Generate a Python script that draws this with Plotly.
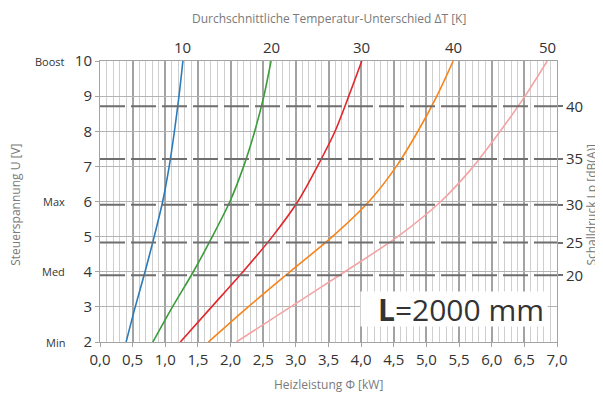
import plotly.graph_objects as go

# control voltage steps (left axis)
voltage = [2, 3, 4, 5, 6, 7, 8, 9, 10]

# heating power [kW] per temperature difference curve
power_dt10 = [0.40, 0.54, 0.69, 0.83, 0.96, 1.06, 1.14, 1.21, 1.27]
power_dt20 = [0.81, 1.11, 1.43, 1.72, 1.99, 2.20, 2.37, 2.51, 2.62]
power_dt30 = [1.23, 1.71, 2.19, 2.64, 3.03, 3.33, 3.60, 3.81, 4.01]
power_dt40 = [1.66, 2.27, 2.91, 3.56, 4.12, 4.54, 4.87, 5.16, 5.41]
power_dt50 = [2.09, 2.92, 3.75, 4.56, 5.22, 5.72, 6.13, 6.51, 6.85]

delta_t = [10, 20, 30, 40, 50]
curve_colors = ["#2b7bba", "#3a9d3a", "#e3262a", "#f7841a", "#f5a3a3"]

# sound pressure levels and where they sit on the voltage scale
sound_levels = [20, 25, 30, 35, 40]
sound_at_voltage = [3.90, 4.83, 5.91, 7.21, 8.71]

# named fan steps
step_names = ["Min", "Med", "Max", "Boost"]
step_voltage = [2, 4, 6, 10]

x_ticks = [i * 0.5 for i in range(15)]
x_labels = [f"{v:.1f}".replace(".", ",") for v in x_ticks]

FONT = "Open Sans"
DARK = "#333333"
GREY = "#7a7a7a"

fig = go.Figure()

curves = [power_dt10, power_dt20, power_dt30, power_dt40, power_dt50]
for dt, pw, col in zip(delta_t, curves, curve_colors):
    fig.add_trace(go.Scatter(
        x=pw, y=voltage, mode="lines", name=f"{dt} K",
        line=dict(color=col, width=1.6, shape="spline", smoothing=0.8),
        showlegend=False, hoverinfo="skip",
    ))
    # delta T label above the end of each curve
    fig.add_annotation(x=pw[-1], y=1.0, xref="x", yref="paper", yanchor="bottom",
                       yshift=2, text=str(dt), showarrow=False,
                       font=dict(size=15, color=DARK, family=FONT))

# invisible trace so the right axis is drawn
fig.add_trace(go.Scatter(x=[0], y=[2], yaxis="y2", mode="markers",
                         marker=dict(opacity=0), showlegend=False, hoverinfo="skip"))

# dashed sound pressure lines
for yv in sound_at_voltage:
    fig.add_shape(type="line", xref="x", yref="y", x0=0, x1=7, y0=yv, y1=yv,
                  line=dict(color="#6e6e6e", width=2, dash="25px,6px"), layer="above")

# step names next to left tick labels
for name, yv in zip(step_names, step_voltage):
    fig.add_annotation(x=-0.072, y=yv, xref="paper", yref="y", xanchor="right",
                       text=name, showarrow=False,
                       font=dict(size=11, color=DARK, family=FONT))

fig.add_annotation(x=0.5, y=1.0, xref="paper", yref="paper", yanchor="middle",
                   yshift=43, text="Durchschnittliche Temperatur-Unterschied ΔT [K]",
                   showarrow=False, font=dict(size=12, color=GREY, family=FONT))
fig.add_annotation(x=0.5, y=0, xref="paper", yref="paper", yanchor="middle",
                   yshift=-42, text="Heizleistung Φ [kW]",
                   showarrow=False, font=dict(size=12, color=GREY, family=FONT))
fig.add_annotation(x=-0.185, y=0.49, xref="paper", yref="paper", textangle=-90,
                   xanchor="center", yanchor="middle",
                   text="Steuerspannung U [V]", showarrow=False,
                   font=dict(size=12, color=GREY, family=FONT))
fig.add_annotation(x=1.075, y=0.49, xref="paper", yref="paper", textangle=-90,
                   xanchor="center", yanchor="middle",
                   text="Schalldruck Lp [dB(A)]", showarrow=False,
                   font=dict(size=12, color=GREY, family=FONT))

# length label with white box
fig.add_annotation(x=0.7746, y=0.118, xref="paper", yref="paper",
                   xanchor="center", yanchor="middle", width=180, height=28,
                   align="right", text="<b>L</b>=2000 mm", showarrow=False,
                   bgcolor="white", borderpad=3,
                   font=dict(size=30, color=DARK, family=FONT))

# the page adds an 8px body margin, so the figure is drawn 8px smaller
fig.update_layout(
    width=595, height=392,
    margin=dict(l=92, r=46, t=53, b=58),
    paper_bgcolor="white", plot_bgcolor="white",
    font=dict(family=FONT, color=DARK),
    xaxis=dict(
        range=[0, 7], tickvals=x_ticks, ticktext=x_labels,
        tickfont=dict(size=15, color=DARK),
        showgrid=True, gridcolor="#a3a3a3", gridwidth=1.5,
        minor=dict(dtick=0.1, showgrid=True, gridcolor="#cfcfcf", gridwidth=1),
        ticks="outside", ticklen=4, tickcolor="#a3a3a3",
        showline=True, linecolor="#a3a3a3", mirror=True, zeroline=False,
    ),
    yaxis=dict(
        range=[2, 10], dtick=1, tickfont=dict(size=15, color=DARK),
        showgrid=True, gridcolor="#b3b3b3", gridwidth=1.2,
        ticks="outside", ticklen=4, tickcolor="#a3a3a3",
        showline=True, linecolor="#a3a3a3", mirror=True, zeroline=False,
    ),
    yaxis2=dict(
        range=[2, 10], overlaying="y", side="right",
        tickvals=sound_at_voltage, ticktext=[str(s) for s in sound_levels],
        tickfont=dict(size=15, color=DARK),
        ticks="outside", ticklen=5, tickcolor="#6e6e6e", tickwidth=2,
        showgrid=False, zeroline=False, showline=False,
    ),
)

fig.write_html("out.html")
